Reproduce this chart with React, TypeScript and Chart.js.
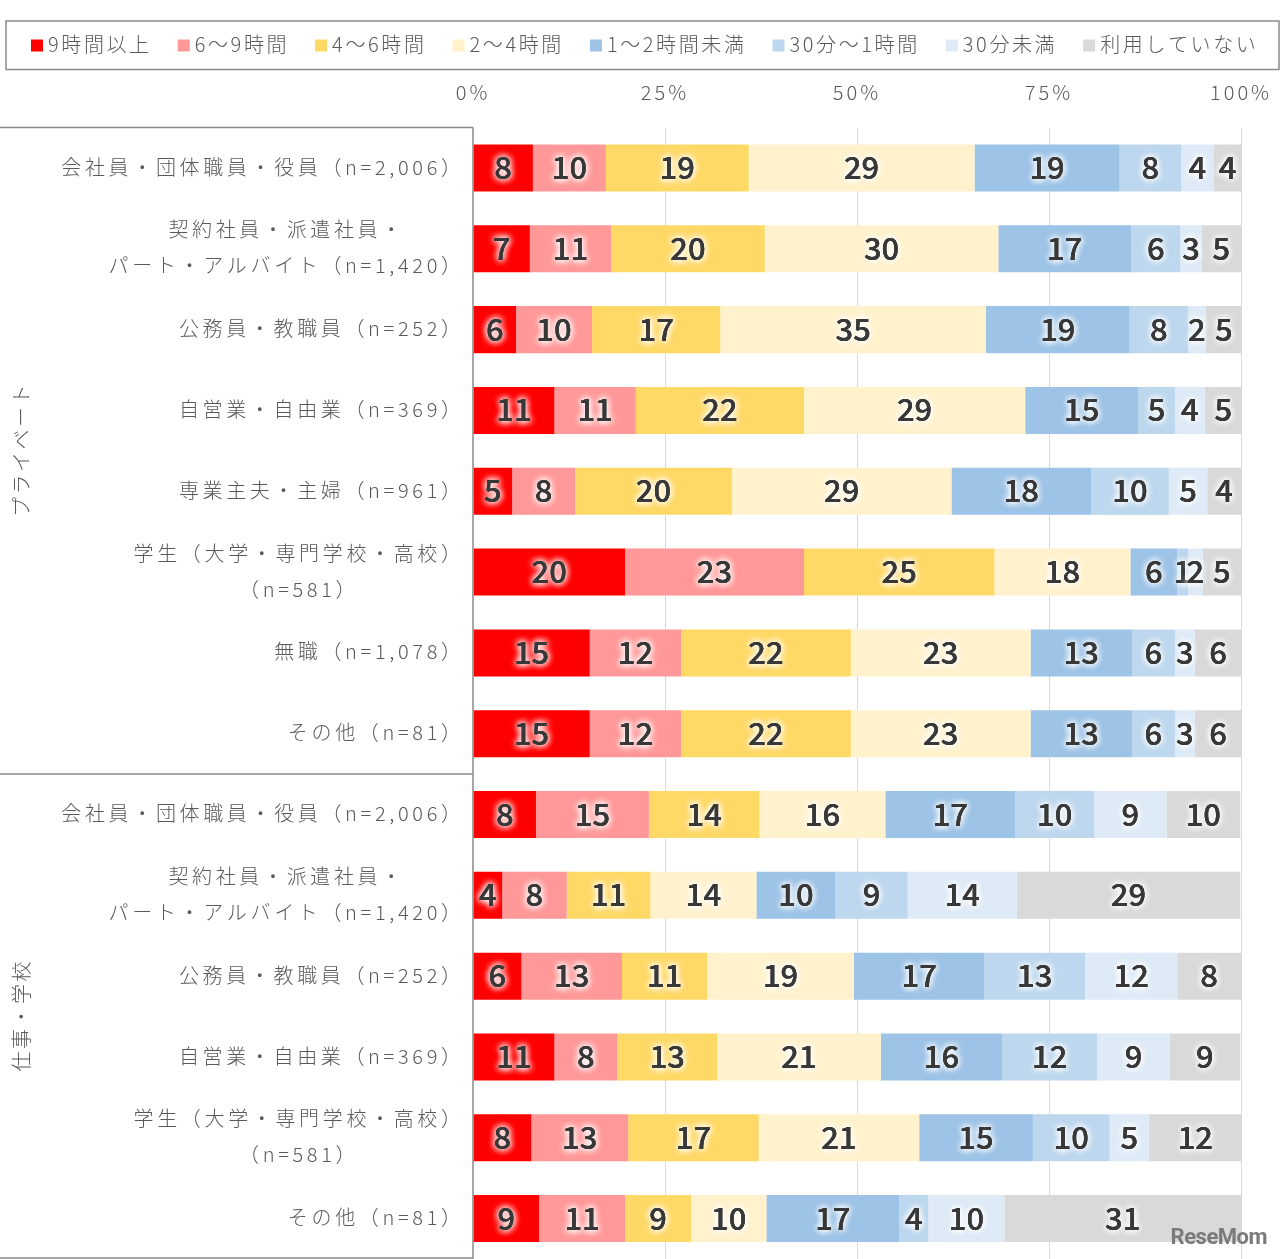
import React, { useEffect, useRef } from "react";
import { Chart, registerables } from "chart.js";

Chart.register(...registerables);

const categories: string[][] = [
  ["会社員・団体職員・役員（n=2,006）"],
  ["契約社員・派遣社員・", "パート・アルバイト（n=1,420）"],
  ["公務員・教職員（n=252）"],
  ["自営業・自由業（n=369）"],
  ["専業主夫・主婦（n=961）"],
  ["学生（大学・専門学校・高校）", "（n=581）"],
  ["無職（n=1,078）"],
  ["その他（n=81）"],
  ["会社員・団体職員・役員（n=2,006）"],
  ["契約社員・派遣社員・", "パート・アルバイト（n=1,420）"],
  ["公務員・教職員（n=252）"],
  ["自営業・自由業（n=369）"],
  ["学生（大学・専門学校・高校）", "（n=581）"],
  ["その他（n=81）"],
];

const groupLabels = ["プライベート", "仕事・学校"];
const groupStarts = [0, 8];
const groupEnds = [7, 13];

const seriesNames = [
  "9時間以上",
  "6～9時間",
  "4～6時間",
  "2～4時間",
  "1～2時間未満",
  "30分～1時間",
  "30分未満",
  "利用していない",
];

const seriesColors = [
  "#FF0000",
  "#FF9999",
  "#FFD966",
  "#FFF2CC",
  "#9DC3E6",
  "#BDD7EE",
  "#DEEBF7",
  "#D9D9D9",
];

const h9plus = [7.8, 7.4, 5.6, 10.6, 5.1, 19.8, 15.2, 15.2, 8.2, 3.8, 6.3, 10.6, 7.6, 8.6];
const h6to9 = [9.5, 10.6, 9.9, 10.6, 8.2, 23.3, 11.9, 11.9, 14.7, 8.4, 13.1, 8.2, 12.6, 11.2];
const h4to6 = [18.6, 20.0, 16.7, 21.9, 20.4, 24.8, 22.1, 22.1, 14.4, 10.9, 11.1, 13.0, 17.0, 8.6];
const h2to4 = [29.4, 30.4, 34.6, 28.8, 28.6, 17.7, 23.4, 23.4, 16.4, 13.8, 19.1, 21.3, 20.9, 9.8];
const h1to2 = [18.9, 17.3, 18.7, 14.7, 18.2, 6.1, 13.2, 13.2, 16.9, 10.3, 17.0, 15.8, 14.8, 17.3];
const m30to60 = [8.0, 6.4, 7.6, 4.8, 10.1, 1.4, 5.6, 5.6, 10.3, 9.4, 13.1, 12.4, 10.0, 3.8];
const m0to30 = [4.2, 2.8, 2.3, 3.9, 5.0, 1.9, 2.6, 2.6, 9.4, 14.2, 12.0, 9.4, 5.1, 9.9];
const notUsed = [3.7, 5.1, 4.7, 4.8, 4.4, 5.0, 6.0, 6.0, 9.6, 29.1, 8.3, 9.2, 12.1, 30.8];

const seriesValues = [h9plus, h6to9, h4to6, h2to4, h1to2, m30to60, m0to30, notUsed];

const xTicks = [0, 25, 50, 75, 100];

const JP = '"Noto Sans CJK JP", "Noto Sans", sans-serif';
const TEXT = "#595959";
const LINE = "#8a8a8a";

const drawPlugin = {
  id: "customDraw",
  beforeDraw(chart: any) {
    const ctx = chart.ctx;
    ctx.fillStyle = "#ffffff";
    ctx.fillRect(0, 0, chart.width, chart.height);
    (ctx as any).letterSpacing = "3px";
  },
  afterDatasetsDraw(chart: any) {
    const ctx = chart.ctx;
    ctx.save();
    (ctx as any).letterSpacing = "0px";
    ctx.font = `500 31px ${JP}`;
    ctx.textAlign = "center";
    ctx.textBaseline = "alphabetic";
    chart.data.datasets.forEach((ds: any, di: number) => {
      const meta = chart.getDatasetMeta(di);
      meta.data.forEach((bar: any, i: number) => {
        const v = ds.data[i];
        const label = String(Math.round(v));
        const cx = (bar.x + bar.base) / 2;
        const cy = bar.y + 11;
        ctx.shadowColor = "rgba(255,255,255,1)";
        ctx.shadowBlur = 7;
        ctx.fillStyle = "#383838";
        ctx.fillText(label, cx, cy);
        ctx.fillText(label, cx, cy);
        ctx.fillText(label, cx, cy);
        ctx.shadowBlur = 0;
        ctx.shadowColor = "rgba(0,0,0,0)";
        ctx.fillText(label, cx, cy);
      });
    });
    ctx.restore();
  },
  afterDraw(chart: any) {
    const ctx = chart.ctx;
    const area = chart.chartArea;
    const yScale = chart.scales.y;
    ctx.save();

    // left frame lines
    ctx.strokeStyle = LINE;
    ctx.lineWidth = 1.5;
    ctx.beginPath();
    ctx.moveTo(0, area.top);
    ctx.lineTo(area.left, area.top);
    const sep = yScale.getPixelForValue(7.5);
    ctx.moveTo(0, sep);
    ctx.lineTo(area.left, sep);
    ctx.moveTo(0, area.bottom - 1);
    ctx.lineTo(area.left, area.bottom - 1);
    ctx.moveTo(area.left, area.top);
    ctx.lineTo(area.left, area.bottom);
    ctx.stroke();

    // category labels
    const sp = 3.65;
    (ctx as any).letterSpacing = `${sp}px`;
    ctx.font = `300 20px ${JP}`;
    ctx.fillStyle = TEXT;
    ctx.textBaseline = "middle";
    ctx.textAlign = "center";
    const rightEdge = 461 + sp;
    categories.forEach((lines, i) => {
      const cy = yScale.getPixelForValue(i);
      const widths = lines.map((l) => ctx.measureText(l).width);
      const maxW = Math.max(...widths);
      const centerX = rightEdge - maxW / 2;
      const lh = 36;
      const y0 = cy - ((lines.length - 1) * lh) / 2 - 1;
      lines.forEach((l, k) => {
        ctx.fillText(l, centerX, y0 + k * lh);
      });
    });

    // group labels (vertical)
    (ctx as any).letterSpacing = "2.5px";
    groupLabels.forEach((g, gi) => {
      const top = yScale.getPixelForValue(groupStarts[gi] - 0.5);
      const bottom = yScale.getPixelForValue(groupEnds[gi] + 0.5);
      const cy = (top + bottom) / 2;
      ctx.save();
      ctx.translate(21, cy);
      ctx.rotate(-Math.PI / 2);
      ctx.textAlign = "center";
      ctx.textBaseline = "middle";
      ctx.fillText(g, 1.25, 0);
      ctx.restore();
    });

    // legend
    ctx.strokeStyle = LINE;
    ctx.lineWidth = 1.5;
    ctx.strokeRect(6, 21, 1273, 48.5);
    (ctx as any).letterSpacing = "2.6px";
    ctx.font = `300 20px ${JP}`;
    ctx.textAlign = "left";
    ctx.textBaseline = "middle";
    let lx = 31;
    chart.data.datasets.forEach((ds: any) => {
      ctx.fillStyle = ds.backgroundColor;
      ctx.fillRect(lx, 39.5, 12, 12);
      ctx.fillStyle = TEXT;
      ctx.fillText(ds.label, lx + 17, 44);
      const w = ctx.measureText(ds.label).width;
      lx += 17 + w + 26;
    });

    // watermark
    (ctx as any).letterSpacing = "-0.5px";
    ctx.font = `bold 22px Roboto, "Liberation Sans", sans-serif`;
    ctx.fillStyle = "#7a7a7a";
    ctx.textAlign = "right";
    ctx.textBaseline = "alphabetic";
    ctx.fillText("ReseMom", 1267, 1244);

    ctx.restore();
  },
};

export default function App() {
  const canvasRef = useRef<HTMLCanvasElement | null>(null);

  useEffect(() => {
    document.body.style.margin = "0";
    const canvas = canvasRef.current;
    if (!canvas) return;
    const chart = new Chart(canvas, {
      type: "bar",
      data: {
        labels: categories,
        datasets: seriesNames.map((name, i) => ({
          label: name,
          data: seriesValues[i],
          backgroundColor: seriesColors[i],
          borderWidth: 0,
          barPercentage: 0.582,
          categoryPercentage: 1,
        })),
      },
      options: {
        indexAxis: "y",
        responsive: false,
        animation: false,
        devicePixelRatio: 1,
        layout: { padding: { left: 473, right: 39, top: 0, bottom: 0 } },
        plugins: {
          legend: { display: false },
          tooltip: { enabled: false },
        },
        scales: {
          x: {
            type: "linear",
            position: "top",
            stacked: true,
            min: 0,
            max: 100,
            afterBuildTicks: (scale: any) => {
              scale.ticks = xTicks.map((v) => ({ value: v }));
            },
            afterFit: (scale: any) => {
              scale.height = 127.6;
              scale.paddingLeft = 0;
              scale.paddingRight = 0;
            },
            ticks: {
              callback: (v: any) => `${v}%`,
              color: TEXT,
              font: { family: JP, size: 20, weight: "300" },
              padding: 23,
              maxRotation: 0,
              autoSkip: false,
            },
            grid: {
              drawTicks: false,
              color: (c: any) => (c.tick && c.tick.value === 0 ? "rgba(0,0,0,0)" : "#d9d9d9"),
              lineWidth: 1,
            },
            border: { display: false },
          },
          y: {
            type: "category",
            stacked: true,
            display: false,
          },
        },
      },
      plugins: [drawPlugin],
    } as any);
    return () => chart.destroy();
  }, []);

  return (
    <div style={{ position: "absolute", left: 0, top: 0 }}>
      <canvas ref={canvasRef} width={1280} height={1259} style={{ width: 1280, height: 1259, display: "block" }} />
    </div>
  );
}
